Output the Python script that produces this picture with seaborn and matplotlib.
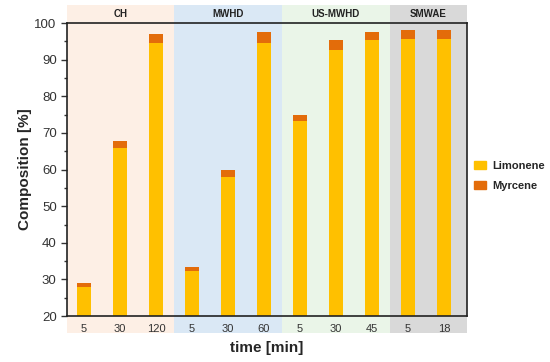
import matplotlib
matplotlib.use("Agg")
import matplotlib.pyplot as plt
from matplotlib.patches import Patch
import numpy as np
import pandas as pd
import seaborn as sns

# composition data
methods = ["CH", "CH", "CH", "MWHD", "MWHD", "MWHD",
           "US-MWHD", "US-MWHD", "US-MWHD", "SMWAE", "SMWAE"]
times = ["5", "30", "120", "5", "30", "60", "5", "30", "45", "5", "18"]
limonene = [27.9, 66.0, 94.7, 32.4, 58.0, 94.7, 73.3, 92.6, 95.4, 95.6, 95.6]
myrcene = [1.0, 1.8, 2.4, 1.1, 2.0, 2.9, 1.7, 2.9, 2.2, 2.4, 2.4]

group_names = ["CH", "MWHD", "US-MWHD", "SMWAE"]
group_colors = ["#fdefe5", "#dae8f5", "#eaf5e8", "#d9d9d9"]

df = pd.DataFrame({"method": methods, "time": times,
                   "Limonene": limonene, "Myrcene": myrcene})
df["pos"] = df["method"] + " " + df["time"]
df["total"] = df["Limonene"] + df["Myrcene"]

c_lim = "#ffc000"
c_myr = "#e36c0a"

sns.set_style("ticks")
plt.rcParams["font.family"] = ["Liberation Sans", "DejaVu Sans"]

fig = plt.figure(figsize=(5.5, 3.62), dpi=100)
ax = fig.add_axes([0.122, 0.127, 0.727, 0.809])

# stacked bars: total (myrcene on top) drawn first, limonene over it
sns.barplot(data=df, x="pos", y="total", color=c_myr, width=0.37,
            saturation=1, ax=ax, zorder=3, linewidth=0, edgecolor="none")
sns.barplot(data=df, x="pos", y="Limonene", color=c_lim, width=0.37,
            saturation=1, ax=ax, zorder=4, linewidth=0, edgecolor="none")

# shaded method blocks, extending above and below the plot box
xmin, xmax = -0.47, 10.64
edges = [xmin]
start = -0.5
for g in group_names:
    start += methods.count(g)
    edges.append(start)
edges[-1] = xmax
for i, g in enumerate(group_names):
    ax.axvspan(edges[i], edges[i + 1], ymin=-0.058, ymax=1.062,
               color=group_colors[i], zorder=0, clip_on=False, lw=0)
    ax.text((edges[i] + edges[i + 1]) / 2, 1.031, g,
            transform=ax.get_xaxis_transform(), ha="center", va="center",
            fontsize=7, fontweight="bold", color="#222222")

ax.set_xlim(xmin, xmax)
ax.set_ylim(20, 100)
ax.set_yticks(np.arange(20, 101, 10))
ax.set_yticks(np.arange(25, 100, 10), minor=True)
ax.set_xticks(range(len(times)))
ax.set_xticklabels(times)
ax.tick_params(axis="x", length=0, labelsize=8, colors="#333333", pad=6)
ax.tick_params(axis="y", which="major", length=4, width=1, labelsize=9.5,
               colors="#333333")
ax.tick_params(axis="y", which="minor", length=2.5, width=1, colors="#333333")
for s in ax.spines.values():
    s.set_visible(True)
    s.set_color("#222222")
    s.set_linewidth(1.2)
    s.set_zorder(5)

ax.set_xlabel("time [min]", fontsize=11, fontweight="bold", labelpad=5)
ax.set_ylabel("Composition [%]", fontsize=11, fontweight="bold", labelpad=2)

handles = [Patch(color=c_lim, label="Limonene"), Patch(color=c_myr, label="Myrcene")]
leg = fig.legend(handles=handles, loc="center left", bbox_to_anchor=(0.862, 0.515),
                 frameon=False, handlelength=1.1, handleheight=0.7,
                 handletextpad=0.5, labelspacing=0.9, borderpad=0,
                 borderaxespad=0, prop={"weight": "bold", "size": 8})

fig.savefig("out.png", dpi=100)
